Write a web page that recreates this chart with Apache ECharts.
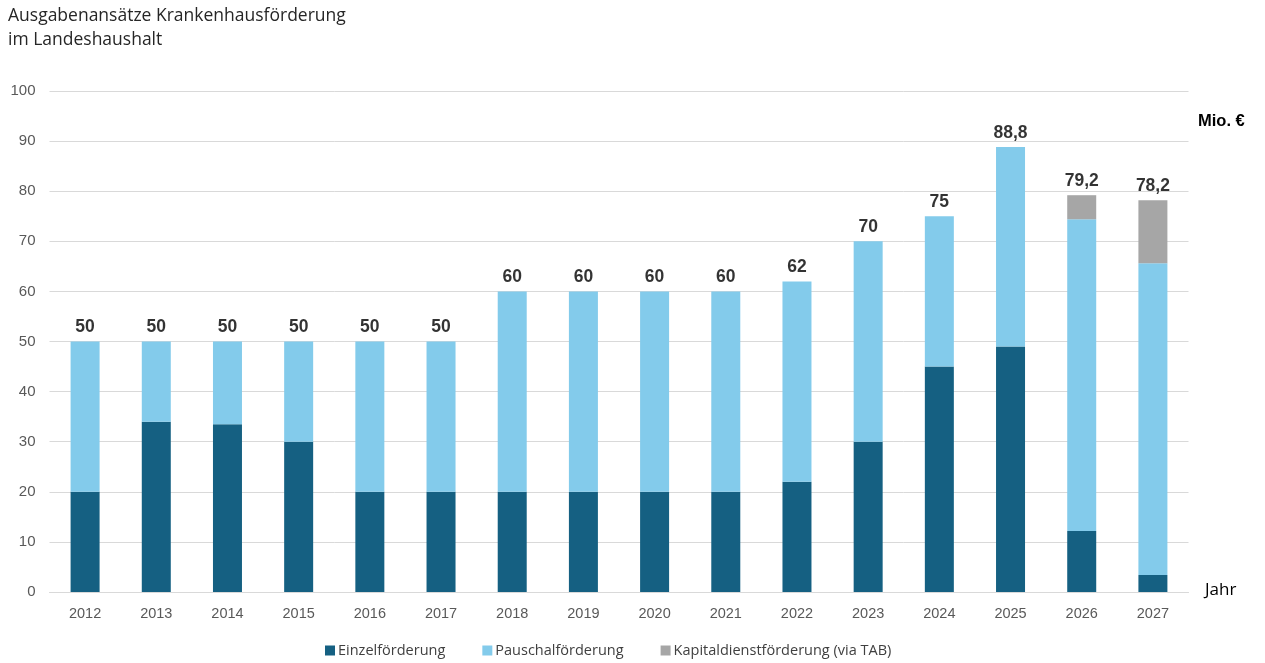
<!DOCTYPE html>
<html>
<head>
<meta charset="utf-8">
<script src="https://cdn.jsdelivr.net/npm/echarts@6/dist/echarts.min.js"></script>
<style>
  html, body { margin: 0; padding: 0; background: #fff; }
  #chart { width: 1265px; height: 663px; }
</style>
</head>
<body>
<div id="chart"></div>
<script>
const years = ['2012', '2013', '2014', '2015', '2016', '2017', '2018', '2019', '2020', '2021', '2022', '2023', '2024', '2025', '2026', '2027']
const einzel = [20, 34, 33.5, 30, 20, 20, 20, 20, 20, 20, 22, 30, 45, 49, 12.2, 3.4]
const pauschal = [30, 16, 16.5, 20, 30, 30, 40, 40, 40, 40, 40, 40, 30, 39.8, 62.2, 62.2]
const kapital = [0, 0, 0, 0, 0, 0, 0, 0, 0, 0, 0, 0, 0, 0, 4.8, 12.6]
const totals = [50, 50, 50, 50, 50, 50, 60, 60, 60, 60, 62, 70, 75, 88.8, 79.2, 78.2]
const yTicks = [0, 10, 20, 30, 40, 50, 60, 70, 80, 90, 100]

const chart = echarts.init(document.getElementById('chart'))

const barBase = { type: 'bar', stack: 'total', barWidth: 29 }

chart.setOption({
  animation: false,
  textStyle: { fontFamily: 'Liberation Sans' },
  graphic: [
    {
      type: 'text', left: 8, top: 4,
      style: {
        text: 'Ausgabenansätze Krankenhausförderung\nim Landeshaushalt',
        fontFamily: 'Open Sans', fontSize: 17.5, lineHeight: 24, fill: '#262626'
      }
    },
    {
      type: 'text', left: 1198, top: 113,
      style: { text: 'Mio. €', fontFamily: 'Liberation Sans', fontSize: 16.5, fontWeight: 'bold', fill: '#000' }
    },
    {
      type: 'text', left: 1205, top: 582,
      style: { text: 'Jahr', fontFamily: 'Open Sans', fontSize: 17, fill: '#000' }
    }
  ],
  grid: { left: 49.5, right: 76.5, top: 91, bottom: 71, containLabel: false },
  legend: {
    bottom: 0,
    left: 320,
    itemWidth: 10,
    itemHeight: 10,
    itemGap: 37,
    icon: 'rect',
    textStyle: { fontFamily: 'Open Sans', fontSize: 14.5, color: '#404040', padding: [0, 0, 0, -2] },
    data: ['Einzelförderung', 'Pauschalförderung', 'Kapitaldienstförderung (via TAB)']
  },
  xAxis: {
    type: 'category',
    data: years,
    axisTick: { show: false },
    axisLine: { lineStyle: { color: '#d9d9d9' } },
    axisLabel: { color: '#595959', fontSize: 14.5, margin: 14 }
  },
  yAxis: {
    type: 'value',
    min: yTicks[0],
    max: yTicks[yTicks.length - 1],
    interval: 10,
    axisLine: { show: false },
    axisTick: { show: false },
    axisLabel: { color: '#595959', fontSize: 15, margin: 14, align: 'right' },
    splitLine: { lineStyle: { color: '#d9d9d9' } }
  },
  series: [
    { ...barBase, name: 'Einzelförderung', data: einzel, itemStyle: { color: '#156082' } },
    { ...barBase, name: 'Pauschalförderung', data: pauschal, itemStyle: { color: '#83cbeb' } },
    { ...barBase, name: 'Kapitaldienstförderung (via TAB)', data: kapital, itemStyle: { color: '#a6a6a6' } },
    {
      type: 'scatter',
      name: 'Summe',
      data: totals,
      symbolSize: 0,
      silent: true,
      label: {
        show: true,
        position: 'top',
        distance: 5,
        color: '#000',
        fontWeight: 'bold',
        fontSize: 17.5,
        formatter: p => String(p.value).replace('.', ',')
      }
    }
  ]
})
</script>
</body>
</html>
